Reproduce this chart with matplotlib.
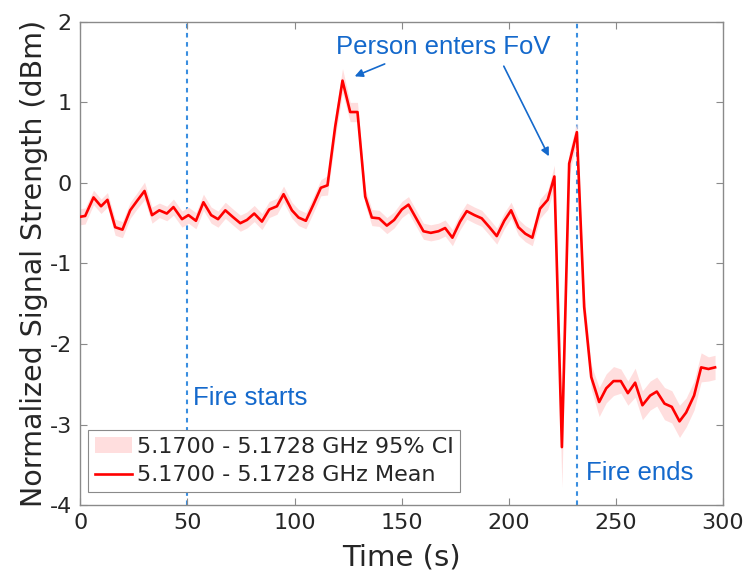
import numpy as np
import matplotlib
matplotlib.use('Agg')
import matplotlib.pyplot as plt

# Time stamps (s) and mean normalised signal strength (dBm) for the 5.1700 - 5.1728 GHz band
time_s = [0.0, 2.3, 6.2, 9.7, 12.7, 16.3, 19.7, 23.3, 26.6, 30.0,
          33.5, 36.9, 40.4, 43.5, 47.5, 50.5, 54.0, 57.5, 61.1, 64.3,
          67.7, 71.1, 74.7, 77.8, 81.2, 84.8, 88.2, 91.8, 94.9, 98.8,
          101.9, 105.3, 108.8, 112.3, 115.4, 119.0, 122.4, 126.0, 129.4, 133.0,
          136.1, 139.5, 143.1, 146.5, 150.1, 153.2, 156.8, 160.2, 163.6, 167.2,
          170.3, 173.7, 177.3, 180.4, 184.0, 187.4, 191.0, 194.4, 197.9, 201.1,
          204.5, 207.7, 211.0, 214.6, 218.2, 221.3, 224.8, 228.2, 231.8, 235.2,
          238.5, 242.2, 245.5, 248.9, 252.3, 255.6, 259.0, 262.4, 266.0, 269.1,
          272.7, 276.1, 279.7, 282.8, 286.5, 289.8, 293.2, 296.3]
mean_dbm = [-0.42, -0.41, -0.18, -0.29, -0.21, -0.55, -0.58, -0.34, -0.22, -0.10,
            -0.40, -0.34, -0.38, -0.30, -0.45, -0.40, -0.47, -0.24, -0.40, -0.45,
            -0.34, -0.42, -0.50, -0.46, -0.38, -0.48, -0.33, -0.29, -0.14, -0.34,
            -0.43, -0.47, -0.27, -0.06, -0.03, 0.70, 1.27, 0.88, 0.88, -0.17,
            -0.43, -0.44, -0.53, -0.46, -0.33, -0.27, -0.44, -0.60, -0.62, -0.60,
            -0.56, -0.68, -0.48, -0.35, -0.40, -0.44, -0.55, -0.66, -0.47, -0.34,
            -0.55, -0.63, -0.68, -0.32, -0.21, 0.08, -3.28, 0.24, 0.63, -1.54,
            -2.41, -2.72, -2.55, -2.46, -2.46, -2.61, -2.48, -2.76, -2.64, -2.59,
            -2.74, -2.78, -2.96, -2.85, -2.64, -2.29, -2.31, -2.29]
# half width of the 95% confidence interval
ci_half = [0.10, 0.10, 0.09, 0.09, 0.09, 0.10, 0.10, 0.10, 0.10, 0.11,
           0.10, 0.09, 0.09, 0.10, 0.10, 0.10, 0.10, 0.10, 0.10, 0.10,
           0.10, 0.10, 0.10, 0.10, 0.10, 0.10, 0.10, 0.10, 0.10, 0.10,
           0.10, 0.10, 0.10, 0.10, 0.12, 0.14, 0.15, 0.12, 0.12, 0.10,
           0.10, 0.10, 0.10, 0.10, 0.10, 0.10, 0.10, 0.10, 0.10, 0.10,
           0.10, 0.10, 0.10, 0.10, 0.10, 0.10, 0.10, 0.10, 0.10, 0.10,
           0.10, 0.10, 0.10, 0.12, 0.12, 0.14, 0.50, 0.14, 0.12, 0.15,
           0.15, 0.18, 0.18, 0.18, 0.15, 0.15, 0.18, 0.18, 0.18, 0.18,
           0.20, 0.20, 0.20, 0.18, 0.18, 0.18, 0.15, 0.15]

fire_start = 50
fire_end = 232

t = np.array(time_s)
m = np.array(mean_dbm)
h = np.array(ci_half)

plt.rcParams['font.family'] = 'DejaVu Sans'
plt.rcParams['axes.unicode_minus'] = False
fig = plt.figure(figsize=(7.5, 5.74), dpi=100)
ax = fig.add_axes([0.107, 0.12, 0.857, 0.842])

ann_blue = '#1469cc'
line_blue = '#3a8ee0'
ax.axvline(fire_start, color=line_blue, ls=(0, (2.2, 2.2)), lw=1.5, zorder=1)
ax.axvline(fire_end, color=line_blue, ls=(0, (2.2, 2.2)), lw=1.5, zorder=1)

ax.fill_between(t, m - h, m + h, color='#ffdede', lw=0, zorder=2,
                label='5.1700 - 5.1728 GHz 95% CI')
ax.plot(t, m, color='red', lw=1.9, zorder=3, label='5.1700 - 5.1728 GHz Mean')

ann_font = dict(family='Liberation Sans', fontsize=18.5, color=ann_blue)
ax.text(52.5, -2.67, 'Fire starts', va='center', ha='left', **ann_font)
ax.text(236, -3.6, 'Fire ends', va='center', ha='left', **ann_font)
ax.text(169.5, 1.685, 'Person enters FoV', va='center', ha='center', **ann_font)
ax.annotate('', xy=(126.9, 1.31), xytext=(143.3, 1.49),
            arrowprops=dict(arrowstyle='-|>', color=ann_blue, lw=1.2, mutation_scale=12))
ax.annotate('', xy=(219.3, 0.30), xytext=(197.1, 1.48),
            arrowprops=dict(arrowstyle='-|>', color=ann_blue, lw=1.2, mutation_scale=12))

ax.set_xlim(0, 300)
ax.set_ylim(-4, 2)
ax.set_xticks([0, 50, 100, 150, 200, 250, 300])
ax.set_yticks([-4, -3, -2, -1, 0, 1, 2])
ax.tick_params(direction='in', top=True, right=True, length=5, width=0.8,
               color='#8a8a8a', labelsize=16, labelcolor='#262626', pad=6)
for s in ax.spines.values():
    s.set_color('#8a8a8a')
    s.set_linewidth(1.0)

ax.set_xlabel('Time (s)', fontsize=21, color='#262626', labelpad=7)
ax.set_ylabel('Normalized Signal Strength (dBm)', fontsize=20.5, color='#262626', labelpad=1)

leg = ax.legend(loc='lower left', bbox_to_anchor=(0.012, 0.027), fontsize=16,
                frameon=True, fancybox=False, framealpha=1, edgecolor='#8a8a8a',
                handlelength=1.7, handletextpad=0.2, borderpad=0.3, labelspacing=0.4,
                borderaxespad=0)
leg.get_frame().set_linewidth(0.8)
for txt in leg.get_texts():
    txt.set_color('#262626')

fig.savefig('out.png', dpi=100)
